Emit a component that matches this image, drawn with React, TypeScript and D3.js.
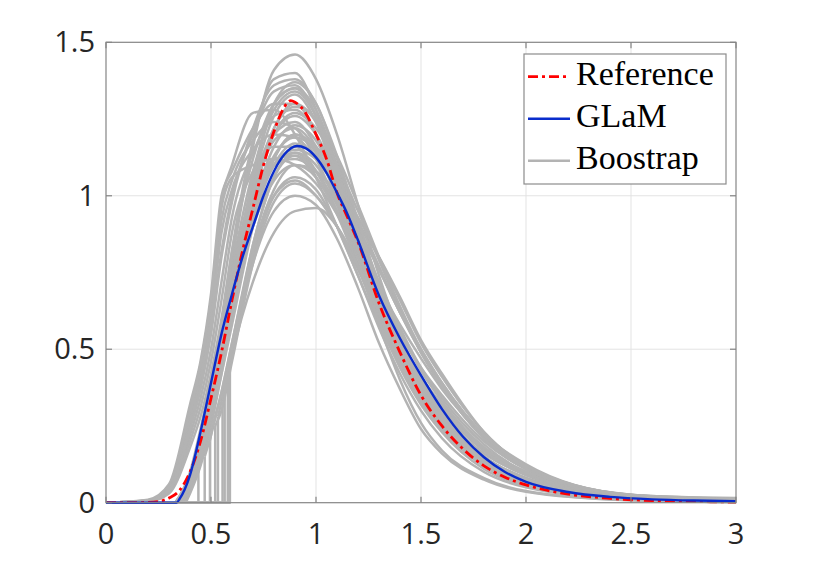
import React, { useEffect, useRef } from 'react';
import * as d3 from 'd3';

// axis ticks
const xTicks = [0, 0.5, 1, 1.5, 2, 2.5, 3];
const xTickLabels = ['0', '0.5', '1', '1.5', '2', '2.5', '3'];
const yTicks = [0, 0.5, 1, 1.5];
const yTickLabels = ['0', '0.5', '1', '1.5'];
const legendLabels = ['Reference', 'GLaM', 'Boostrap'];

// reference density (red dash-dot)
const refX = [0, 0.1, 0.2, 0.25, 0.3, 0.35, 0.4, 0.45, 0.5, 0.55, 0.6, 0.65, 0.7, 0.75, 0.8, 0.85, 0.88, 0.9, 0.95, 1.0, 1.05, 1.1, 1.15, 1.2, 1.3, 1.4, 1.5, 1.6, 1.7, 1.8, 1.9, 2.0, 2.2, 2.4, 2.6, 2.8, 3.0];
const refY = [0, 0, 0.001, 0.004, 0.015, 0.04, 0.1, 0.2, 0.34, 0.49, 0.66, 0.82, 0.96, 1.1, 1.21, 1.29, 1.31, 1.305, 1.27, 1.2, 1.12, 1.01, 0.93, 0.85, 0.65, 0.49, 0.35, 0.25, 0.175, 0.12, 0.083, 0.058, 0.028, 0.014, 0.007, 0.004, 0.002];

// GLaM estimate (blue)
const glamX = [0, 0.336, 0.35, 0.4, 0.45, 0.5, 0.55, 0.6, 0.65, 0.7, 0.75, 0.8, 0.85, 0.91, 0.95, 1.0, 1.05, 1.1, 1.15, 1.2, 1.3, 1.4, 1.5, 1.6, 1.7, 1.8, 1.9, 2.0, 2.2, 2.4, 2.6, 2.8, 3.0];
const glamY = [0, 0, 0.012, 0.09, 0.23, 0.39, 0.55, 0.68, 0.8, 0.9, 1.0, 1.08, 1.135, 1.162, 1.155, 1.125, 1.075, 1.01, 0.94, 0.855, 0.675, 0.535, 0.415, 0.305, 0.215, 0.148, 0.1, 0.068, 0.035, 0.019, 0.011, 0.007, 0.005];

// bootstrap curves, sampled on a shared grid
const bootGrid = [0, 0.2, 0.3, 0.4, 0.45, 0.5, 0.55, 0.6, 0.7, 0.8, 0.9, 1.0, 1.1, 1.2, 1.3, 1.4, 1.5, 1.6, 1.8, 2.0, 2.5, 3.0];
// where each curve leaves zero, and how high it jumps there
const bootStart = [0, 0, 0, 0, 0, 0, 0, 0,
  0.37, 0.36, 0.35, 0.34, 0.33, 0.35, 0.36, 0.34, 0.37, 0.33, 0.35, 0.36, 0.34, 0.35, 0.38, 0.33,
  0.59, 0.58, 0.555, 0.533, 0.495, 0.47, 0.44, 0.565,
  0.34, 0.36, 0.35, 0, 0.33, 0.52, 0, 0.35];
const bootJump = [0, 0, 0, 0, 0, 0, 0, 0,
  0, 0, 0, 0, 0, 0, 0, 0, 0, 0, 0, 0, 0, 0, 0, 0,
  0.45, 0.42, 0.33, 0.28, 0.2, 0.15, 0.1, 0.38,
  0, 0, 0, 0, 0, 0.25, 0, 0];
const bootCurves = [
  [0, .01, .06, .32, .46, .68, 1.0, 1.08, 1.22, 1.3, 1.3, 1.2, 1.02, .83, .64, .49, .37, .28, .15, .08, .018, .005],
  [0, .008, .05, .28, .42, .62, .92, 1.05, 1.18, 1.24, 1.22, 1.12, .97, .8, .63, .49, .38, .29, .16, .09, .02, .006],
  [0, .006, .045, .25, .38, .56, .82, 1.0, 1.2, 1.34, 1.36, 1.26, 1.06, .85, .65, .49, .36, .27, .14, .075, .016, .004],
  [0, .005, .04, .22, .34, .5, .72, .93, 1.14, 1.26, 1.28, 1.2, 1.03, .84, .66, .51, .39, .3, .17, .095, .022, .007],
  [0, .004, .035, .2, .31, .46, .66, .88, 1.08, 1.16, 1.16, 1.08, .95, .8, .65, .52, .41, .32, .18, .1, .024, .008],
  [0, .007, .05, .3, .44, .64, .96, 1.06, 1.1, 1.12, 1.1, 1.04, .94, .81, .66, .52, .4, .31, .17, .094, .021, .006],
  [0, .004, .03, .18, .28, .42, .6, .82, 1.12, 1.3, 1.35, 1.28, 1.1, .88, .67, .5, .37, .27, .14, .072, .015, .004],
  [0, .008, .05, .3, .45, .66, .98, 1.1, 1.27, 1.28, 1.2, 1.06, .9, .74, .58, .45, .34, .26, .14, .075, .016, .004],
  [0, 0, 0, .05, .16, .32, .54, .78, 1.16, 1.41, 1.46, 1.38, 1.2, .97, .74, .55, .4, .29, .15, .078, .016, .004],
  [0, 0, 0, .06, .18, .35, .58, .82, 1.18, 1.38, 1.4, 1.28, 1.08, .86, .66, .5, .37, .27, .14, .072, .015, .004],
  [0, 0, 0, .07, .2, .36, .56, .76, 1.08, 1.28, 1.34, 1.26, 1.09, .89, .69, .52, .39, .29, .15, .08, .017, .005],
  [0, 0, 0, .08, .21, .37, .55, .73, 1.02, 1.2, 1.26, 1.2, 1.06, .88, .7, .54, .41, .31, .17, .09, .02, .006],
  [0, 0, 0, .09, .22, .37, .54, .7, .96, 1.13, 1.19, 1.15, 1.04, .89, .72, .57, .44, .34, .19, .1, .023, .007],
  [0, 0, 0, .06, .17, .31, .48, .66, .96, 1.16, 1.23, 1.18, 1.04, .86, .68, .53, .4, .31, .17, .092, .021, .006],
  [0, 0, 0, .05, .15, .29, .46, .64, .94, 1.1, 1.14, 1.08, .97, .83, .68, .55, .44, .35, .2, .11, .026, .009],
  [0, 0, 0, .07, .19, .34, .52, .7, 1.0, 1.18, 1.22, 1.15, .99, .8, .61, .46, .34, .25, .13, .066, .013, .003],
  [0, 0, 0, .04, .13, .27, .45, .65, 1.0, 1.22, 1.3, 1.24, 1.08, .88, .68, .51, .38, .28, .14, .074, .015, .004],
  [0, 0, 0, .1, .24, .4, .58, .75, 1.0, 1.12, 1.13, 1.06, .95, .83, .7, .58, .47, .37, .22, .125, .025, .012],
  [0, 0, 0, .06, .16, .3, .47, .64, .9, 1.05, 1.1, 1.08, 1.01, .91, .8, .67, .53, .42, .23, .12, .025, .015],
  [0, 0, 0, .05, .15, .28, .45, .62, .92, 1.12, 1.2, 1.16, 1.06, .92, .77, .62, .49, .38, .21, .11, .023, .01],
  [0, 0, 0, .08, .2, .35, .53, .71, 1.04, 1.26, 1.33, 1.24, 1.04, .82, .62, .46, .33, .24, .12, .06, .012, .003],
  [0, 0, 0, .07, .19, .34, .52, .71, 1.05, 1.3, 1.37, 1.3, 1.12, .9, .69, .51, .37, .27, .14, .07, .014, .004],
  [0, 0, 0, .03, .12, .25, .42, .6, .92, 1.1, 1.17, 1.13, 1.02, .87, .71, .56, .43, .33, .18, .1, .022, .007],
  [0, 0, 0, .09, .22, .38, .56, .74, 1.04, 1.2, 1.24, 1.16, 1.0, .82, .64, .49, .37, .28, .15, .08, .017, .005],
  [0, 0, 0, 0, 0, 0, 0, .48, .72, .88, .95, .96, .9, .77, .58, .4, .26, .17, .08, .038, .008, .002],
  [0, 0, 0, 0, 0, 0, 0, .5, .78, .95, 1.0, .97, .86, .7, .52, .37, .24, .16, .075, .036, .008, .002],
  [0, 0, 0, 0, 0, 0, 0, .48, .8, 1.0, 1.06, 1.02, .9, .74, .57, .42, .3, .21, .1, .05, .01, .003],
  [0, 0, 0, 0, 0, 0, .33, .5, .84, 1.06, 1.13, 1.08, .95, .78, .6, .45, .33, .24, .12, .06, .012, .003],
  [0, 0, 0, 0, 0, .22, .36, .52, .82, 1.0, 1.05, 1.0, .9, .76, .61, .47, .35, .26, .13, .066, .014, .004],
  [0, 0, 0, 0, 0, .22, .36, .52, .84, 1.06, 1.14, 1.1, .98, .82, .65, .5, .37, .28, .14, .072, .015, .004],
  [0, 0, 0, 0, .14, .27, .42, .58, .9, 1.12, 1.2, 1.14, 1.0, .82, .63, .48, .35, .26, .13, .067, .014, .004],
  [0, 0, 0, 0, 0, 0, 0, .5, .82, 1.02, 1.1, 1.06, .94, .77, .59, .44, .32, .23, .11, .055, .011, .003],
  [0, 0, 0, .07, .18, .33, .5, .67, .95, 1.1, 1.15, 1.12, 1.04, .93, .8, .66, .52, .41, .23, .12, .026, .013],
  [0, 0, 0, .05, .15, .29, .47, .66, .99, 1.2, 1.27, 1.22, 1.1, .95, .79, .63, .49, .38, .21, .11, .023, .009],
  [0, 0, 0, .06, .17, .32, .5, .69, 1.02, 1.22, 1.29, 1.25, 1.13, .97, .8, .64, .5, .39, .22, .115, .024, .01],
  [0, .006, .045, .26, .4, .59, .88, 1.02, 1.15, 1.2, 1.19, 1.12, 1.02, .9, .76, .62, .49, .38, .21, .11, .024, .01],
  [0, 0, 0, .09, .23, .39, .56, .72, .98, 1.1, 1.12, 1.08, 1.0, .89, .76, .62, .5, .39, .22, .12, .025, .011],
  [0, 0, 0, 0, 0, 0, .3, .46, .78, .98, 1.04, 1.0, .9, .77, .62, .48, .36, .27, .14, .07, .015, .004],
  [0, .005, .04, .24, .37, .55, .8, .98, 1.22, 1.36, 1.38, 1.3, 1.13, .92, .71, .53, .39, .29, .15, .078, .016, .004],
  [0, 0, 0, .06, .17, .32, .5, .7, 1.06, 1.3, 1.35, 1.26, 1.06, .84, .63, .47, .34, .25, .12, .062, .012, .003],
];

const W = 814;
const H = 565;
const RED = '#ff0000';
const BLUE = '#0a2ccc';
const GRAY = '#b3b3b3';

const App: React.FC = () => {
  const ref = useRef<HTMLDivElement | null>(null);

  useEffect(() => {
    d3.select(ref.current).selectAll('*').remove();

    const svg = d3.select(ref.current)
      .append('svg')
      .attr('width', W)
      .attr('height', H)
      .style('display', 'block');

    svg.append('rect').attr('width', W).attr('height', H).attr('fill', '#fff');

    const x = d3.scaleLinear().domain([0, 3]).range([106, 736]);
    const y = d3.scaleLinear().domain([0, 1.5]).range([502.7, 42.3]);

    const [x0, x1] = x.range();
    const [y0, y1] = y.range();

    // grid
    const grid = svg.append('g').attr('stroke', '#e3e3e3').attr('stroke-width', 1);
    xTicks.slice(1, -1).forEach(t => {
      grid.append('line').attr('x1', x(t)).attr('x2', x(t)).attr('y1', y0).attr('y2', y1);
    });
    yTicks.slice(1, -1).forEach(t => {
      grid.append('line').attr('x1', x0).attr('x2', x1).attr('y1', y(t)).attr('y2', y(t));
    });

    const smooth = d3.line<[number, number]>()
      .x(d => x(d[0]))
      .y(d => y(d[1]))
      .curve(d3.curveMonotoneX);
    const straight = d3.line<[number, number]>()
      .x(d => x(d[0]))
      .y(d => y(d[1]));

    // bootstrap curves
    const boot = svg.append('g')
      .attr('fill', 'none')
      .attr('stroke', GRAY)
      .attr('stroke-width', 2.5)
      .attr('stroke-linejoin', 'round');
    bootCurves.forEach((ys, i) => {
      const s = bootStart[i];
      const j = bootJump[i];
      const pts: [number, number][] = [[s, j]];
      bootGrid.forEach((g, k) => {
        if (g > s) pts.push([g, ys[k]]);
      });
      boot.append('path').attr('d', straight([[0, 0], [s, 0], [s, j]]));
      boot.append('path').attr('d', smooth(pts));
    });

    // reference
    const refPts = refX.map((v, i) => [v, refY[i]] as [number, number]);
    svg.append('path')
      .attr('d', smooth(refPts))
      .attr('fill', 'none')
      .attr('stroke', RED)
      .attr('stroke-width', 2.8)
      .attr('stroke-dasharray', '10 4 3 4');

    // GLaM
    const glamPts = glamX.map((v, i) => [v, glamY[i]] as [number, number]);
    svg.append('path')
      .attr('d', smooth(glamPts))
      .attr('fill', 'none')
      .attr('stroke', BLUE)
      .attr('stroke-width', 2.4);

    // box and ticks
    const axisColor = '#858585';
    svg.append('rect')
      .attr('x', x0).attr('y', y1)
      .attr('width', x1 - x0).attr('height', y0 - y1)
      .attr('fill', 'none').attr('stroke', axisColor).attr('stroke-width', 1.2);

    const tk = svg.append('g').attr('stroke', axisColor).attr('stroke-width', 1.2);
    const tl = 6;
    xTicks.forEach(t => {
      tk.append('line').attr('x1', x(t)).attr('x2', x(t)).attr('y1', y0).attr('y2', y0 - tl);
      tk.append('line').attr('x1', x(t)).attr('x2', x(t)).attr('y1', y1).attr('y2', y1 + tl);
    });
    yTicks.forEach(t => {
      tk.append('line').attr('x1', x0).attr('x2', x0 + tl).attr('y1', y(t)).attr('y2', y(t));
      tk.append('line').attr('x1', x1).attr('x2', x1 - tl).attr('y1', y(t)).attr('y2', y(t));
    });

    const labelFont = "'Open Sans', 'Noto Sans', sans-serif";
    svg.append('g').selectAll('text')
      .data(xTicks)
      .enter()
      .append('text')
      .attr('x', d => x(d))
      .attr('y', y0 + 41)
      .attr('text-anchor', 'middle')
      .attr('font-family', labelFont)
      .attr('font-size', 29)
      .attr('fill', '#262626')
      .text((_d, i) => xTickLabels[i]);

    svg.append('g').selectAll('text')
      .data(yTicks)
      .enter()
      .append('text')
      .attr('x', x0 - 11)
      .attr('y', d => y(d) + 10)
      .attr('text-anchor', 'end')
      .attr('font-family', labelFont)
      .attr('font-size', 29)
      .attr('fill', '#262626')
      .text((_d, i) => yTickLabels[i]);

    // legend
    const lg = svg.append('g');
    lg.append('rect')
      .attr('x', 524).attr('y', 54)
      .attr('width', 202).attr('height', 130)
      .attr('fill', '#fff')
      .attr('stroke', '#8c8c8c')
      .attr('stroke-width', 1.2);

    const legendStyles = [
      { color: RED, width: 2.8, dash: '10 4 3 4' },
      { color: BLUE, width: 2.4, dash: null },
      { color: GRAY, width: 2.4, dash: null },
    ];
    legendLabels.forEach((label, i) => {
      const cy = 76.7 + i * 42;
      const st = legendStyles[i];
      const ln = lg.append('line')
        .attr('x1', 528).attr('x2', 570)
        .attr('y1', cy).attr('y2', cy)
        .attr('stroke', st.color)
        .attr('stroke-width', st.width);
      if (st.dash) ln.attr('stroke-dasharray', st.dash);
      lg.append('text')
        .attr('x', 576)
        .attr('y', cy + 8.5)
        .attr('font-family', "'Liberation Serif', 'DejaVu Serif', serif")
        .attr('font-size', 34)
        .attr('fill', '#000')
        .text(label);
    });
  }, []);

  return <div ref={ref} style={{ position: 'absolute', left: 0, top: 0 }}></div>;
};

export default App;
